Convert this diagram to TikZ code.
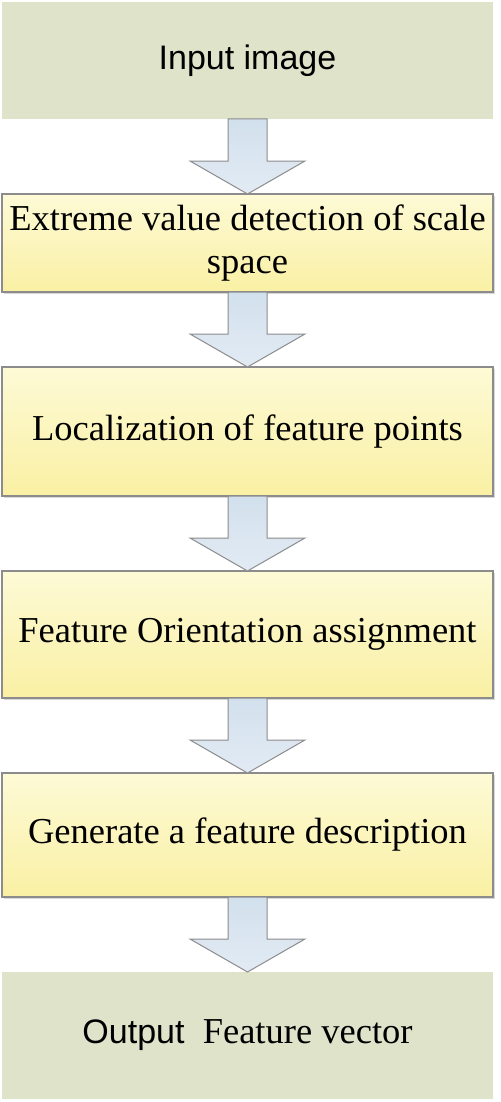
\documentclass[tikz,border=0pt]{standalone}
\usepackage{fontspec}
\setmainfont{Liberation Serif}
\setsansfont{Liberation Sans}
\usetikzlibrary{positioning,calc,shadows}
\definecolor{termgreen}{HTML}{DEE3CA}
\definecolor{proctop}{HTML}{FDFAD6}
\definecolor{procbottom}{HTML}{FAF0A4}
\definecolor{arrowtop}{HTML}{D2E0ED}
\definecolor{arrowbottom}{HTML}{E2EBF4}
\definecolor{edgegray}{HTML}{8C8C8C}
\newcommand{\blockarrow}[2]{%
 \draw[flowarrow] ($(#1.south)+(-9.75pt,0)$) -- ($(#1.south)+(9.75pt,0)$)
  -- ($(#2.north)+(9.75pt,16.5pt)$) -- ($(#2.north)+(28.75pt,16.5pt)$)
  -- (#2.north) -- ($(#2.north)+(-28.75pt,16.5pt)$)
  -- ($(#2.north)+(-9.75pt,16.5pt)$) -- cycle;}

\begin{document}
\begin{tikzpicture}[
 node distance=37.5pt,
 termbox/.style={fill=termgreen,minimum width=245.5pt,inner sep=0pt,outer sep=0pt,align=center},
 procbox/.style={draw=edgegray,line width=0.6pt,top color=proctop,bottom color=procbottom,
  drop shadow={shadow xshift=1pt,shadow yshift=-1pt,fill=black!30},
  minimum width=245.5pt,inner sep=0pt,outer sep=0pt,align=center,
  font=\fontsize{18.25pt}{21.5pt}\selectfont},
 flowarrow/.style={draw=edgegray,line width=0.5pt,top color=arrowtop,bottom color=arrowbottom}]
\useasboundingbox (0,0) rectangle (250pt,-551pt);
\node[termbox,minimum height=58.5pt,anchor=north,font=\sffamily\fontsize{17pt}{20pt}\selectfont]
 (input) at (123.75pt,-1pt) {Input image};
\node[procbox,minimum height=49pt,below=of input] (extreme) {Extreme value detection of scale\\space};
\node[procbox,minimum height=64.5pt,below=of extreme] (local) {Localization of feature points};
\node[procbox,minimum height=63.5pt,below=of local] (orient) {Feature Orientation assignment};
\node[procbox,minimum height=62pt,below=of orient] (descr) {Generate a feature description};
\node[termbox,minimum height=63.5pt,below=of descr,font=\fontsize{18.25pt}{21.5pt}\selectfont]
 (output) {{\sffamily\fontsize{17pt}{20pt}\selectfont Output}\ \ Feature vector};
\blockarrow{input}{extreme}
\blockarrow{extreme}{local}
\blockarrow{local}{orient}
\blockarrow{orient}{descr}
\blockarrow{descr}{output}
\end{tikzpicture}
\end{document}
